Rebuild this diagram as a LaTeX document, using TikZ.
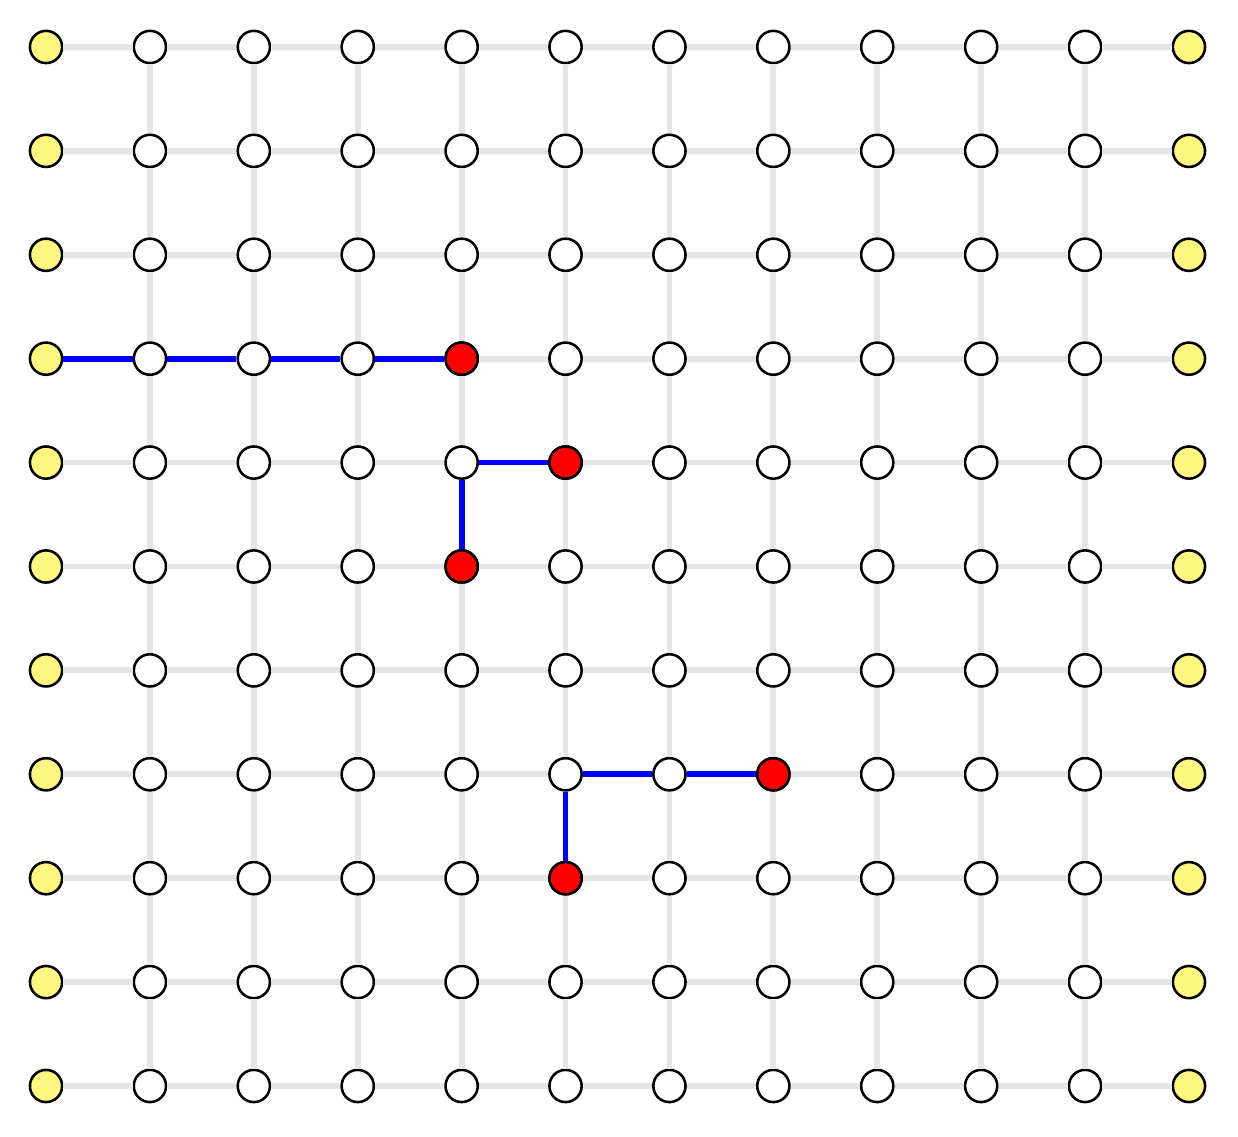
\documentclass[tikz,border=0pt]{standalone}
\usepackage{tikz}

\tikzset{
    site/.style={circle,draw=black,line width=0.7pt,fill=white,inner sep=0pt,minimum size=0.31cm},
    edgesite/.style={site,fill=yellow!50},
    hitsite/.style={site,fill=red},
    bond/.style={line width=1.6pt,black!10},
    chain/.style={line width=1.6pt,blue}
}

\begin{document}
\begin{tikzpicture}
                    \useasboundingbox (-0.443,0.452) rectangle (11.472,-10.482);
                    % sites
                    \foreach \j in {0,...,10}{
                        \node[edgesite] (v-0-\j) at (0,-\j) {};
                        \foreach \i in {1,...,10}{
                            \node[site] (v-\i-\j) at (\i,-\j) {};
                        }
                        \node[edgesite] (v-11-\j) at (11,-\j) {};
                    }
                    % marked sites
                    \foreach \i/\j in {4/3,5/4,4/5,7/7,5/8}{
                        \node[hitsite] at (v-\i-\j) {};
                    }
                    % lattice bonds
                    \foreach \j in {0,...,10}{
                        \foreach \i [evaluate=\i as \k using int(\i+1)] in {0,...,10}{
                            \draw[bond] (v-\i-\j) -- (v-\k-\j);
                        }
                    }
                    \foreach \i in {1,...,10}{
                        \foreach \j [evaluate=\j as \k using int(\j+1)] in {0,...,9}{
                            \draw[bond] (v-\i-\j) -- (v-\i-\k);
                        }
                    }
                    % paths
                    \draw[chain] (v-0-3) -- (v-1-3) (v-1-3) -- (v-2-3) (v-2-3) -- (v-3-3) (v-3-3) -- (v-4-3);
                    \draw[chain] (v-4-4) -- (v-5-4) (v-4-4) -- (v-4-5);
                    \draw[chain] (v-5-7) -- (v-6-7) (v-6-7) -- (v-7-7) (v-5-7) -- (v-5-8);
                \end{tikzpicture}
\end{document}
